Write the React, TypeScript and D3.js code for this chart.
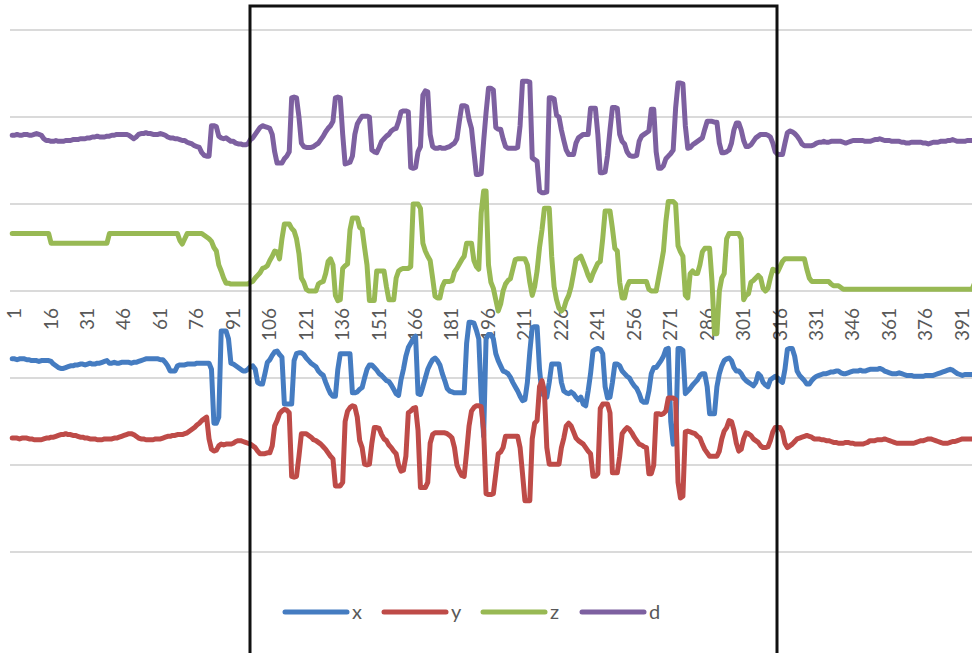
import React from "react";
import * as d3 from "d3";

// ---------- data ----------
const categories: number[] = d3.range(1, 401);
const tickLabels: number[] = [1, 16, 31, 46, 61, 76, 91, 106, 121, 136, 151, 166, 181, 196, 211, 226, 241, 256, 271, 286, 301, 316, 331, 346, 361, 376, 391];
const gridValues: number[] = [-3, -2, -1, 0, 1, 2, 3];

const seriesX: number[] = [
  -0.78,-0.78,-0.79,-0.78,-0.78,-0.78,-0.79,-0.79,-0.80,
  -0.80,-0.80,-0.81,-0.80,-0.80,-0.80,-0.80,-0.81,
  -0.84,-0.86,-0.88,-0.89,-0.89,-0.88,
  -0.87,-0.86,-0.86,-0.85,-0.85,-0.84,-0.84,-0.85,-0.84,-0.83,-0.84,-0.84,-0.83,-0.83,-0.82,
  -0.81,-0.80,
  -0.83,-0.83,-0.82,-0.83,-0.83,-0.82,-0.82,-0.82,-0.82,-0.83,-0.82,-0.82,-0.81,
  -0.80,-0.79,-0.78,-0.78,-0.78,
  -0.78,-0.78,-0.78,-0.79,-0.79,
  -0.82,-0.86,
  -0.92,-0.92,-0.92,
  -0.86,-0.85,-0.85,-0.85,-0.84,-0.84,-0.84,-0.84,-0.83,-0.83,-0.83,
  -0.83,-0.83,-0.83,
  -0.90,
  -1.52,-1.52,-1.45,
  -0.46,-0.46,-0.46,-0.55,-0.83,
  -0.84,-0.86,-0.88,-0.90,-0.92,-0.92,-0.90,
  -0.87,-0.86,-0.90,
  -1.05,-1.07,-1.07,-0.95,
  -0.82,-0.79,-0.74,-0.70,-0.69,-0.73,-0.76,
  -1.30,-1.30,-1.30,-1.30,
  -0.80,-0.72,-0.71,-0.71,-0.73,-0.77,-0.80,
  -0.83,-0.85,-0.87,-0.92,-0.95,-0.97,-1.05,-1.12,
  -1.18,-1.21,-1.21,-0.90,
  -0.72,-0.72,-0.72,-0.72,-0.72,
  -1.17,-1.17,-1.16,-1.13,-1.11,-1.00,
  -0.90,-0.85,-0.85,-0.88,-0.91,-0.95,-0.97,-1.00,
  -1.03,-1.04,-1.08,-1.13,-1.18,-1.20,
  -1.02,-0.90,-0.75,-0.65,-0.60,-0.55,-0.52,
  -1.18,-1.19,-1.10,-1.00,-0.90,-0.84,
  -0.79,-0.77,-0.80,-0.85,-0.95,-1.03,-1.12,-1.15,-1.16,
  -1.17,-1.17,-1.17,-1.17,-1.17,
  -0.60,-0.36,-0.36,-0.37,-0.45,-0.55,
  -1.20,-1.67,-0.55,
  -0.50,-0.50,-0.55,-0.72,-0.80,-0.86,-0.92,
  -0.93,-0.95,-0.99,-1.05,-1.10,-1.15,-1.21,-1.26,-1.25,
  -1.05,-0.70,-0.42,-0.41,-0.41,
  -0.90,-1.18,-1.20,-1.22,-1.05,
  -0.84,-0.84,-0.84,-0.84,
  -1.05,-1.15,-1.17,-1.18,-1.16,-1.18,
  -1.22,-1.25,-1.22,-1.30,-1.32,-1.15,-0.95,
  -0.69,-0.67,-0.66,-0.67,-0.72,
  -1.10,-1.23,-1.22,-1.05,-0.84,-0.84,-0.86,
  -0.92,-0.95,-0.98,-1.00,-1.05,-1.09,-1.12,-1.18,
  -1.26,-1.28,-1.28,-1.15,-0.95,
  -0.88,-0.88,-0.84,-0.80,-0.75,-0.67,-0.66,
  -1.50,-1.76,-1.75,-0.66,-0.66,-0.68,
  -1.18,-1.15,-1.12,-1.08,-1.05,-1.02,-0.97,-0.95,-0.95,
  -1.10,-1.41,-1.41,-1.41,-1.10,-0.95,
  -0.86,-0.80,-0.78,-0.77,-0.80,-0.88,
  -0.92,-0.92,-0.95,-1.00,-1.03,-1.05,-1.07,-1.09,
  -1.05,-0.95,-0.98,-1.05,-1.08,-1.10,
  -1.02,-1.00,-0.98,-1.00,-1.03,-1.05,
  -0.90,-0.67,-0.66,-0.66,-0.75,
  -0.92,-0.97,-1.00,-1.03,-1.07,-1.07,-1.03,
  -1.00,-0.98,-0.97,-0.96,-0.95,-0.95,-0.94,-0.93,-0.93,-0.92,
  -0.92,-0.94,-0.95,-0.95,-0.94,-0.93,-0.92,-0.92,-0.92,-0.91,
  -0.92,-0.92,-0.91,-0.90,-0.90,-0.90,-0.90,-0.89,-0.90,-0.92,
  -0.93,-0.94,-0.95,-0.95,-0.95,-0.94,-0.95,-0.96,-0.97,-0.97,
  -0.97,-0.98,-0.98,-0.98,-0.98,-0.98,-0.97,-0.97,-0.97,-0.97,
  -0.96,-0.95,-0.94,-0.93,-0.92,-0.91,-0.90,-0.91,-0.93,-0.95,
  -0.96,-0.97,-0.96,-0.96,-0.96,-0.96,-0.96,-0.96,-0.96,-0.96,
];

const seriesY: number[] = [
  -1.69,-1.69,-1.69,-1.70,-1.69,-1.69,
  -1.69,-1.70,-1.70,-1.71,-1.71,-1.71,
  -1.71,-1.70,-1.69,-1.69,
  -1.68,-1.68,-1.67,-1.66,-1.65,-1.65,-1.64,-1.65,
  -1.65,-1.66,-1.66,-1.67,-1.68,-1.68,-1.69,-1.69,
  -1.70,-1.70,-1.70,-1.71,-1.71,-1.71,-1.70,-1.70,-1.70,-1.70,
  -1.69,-1.69,-1.68,-1.67,-1.66,-1.65,-1.64,-1.64,
  -1.65,-1.67,-1.69,
  -1.70,-1.70,-1.71,-1.71,-1.71,-1.71,-1.70,-1.70,-1.70,
  -1.69,-1.68,-1.67,-1.67,-1.66,-1.66,-1.65,-1.65,
  -1.65,-1.64,-1.63,-1.61,
  -1.59,-1.57,-1.54,-1.52,-1.49,-1.47,-1.45,
  -1.70,-1.82,-1.84,-1.83,
  -1.78,-1.76,-1.77,-1.76,-1.76,-1.76,
  -1.75,-1.73,-1.72,-1.72,-1.73,-1.74,-1.75,
  -1.76,-1.78,-1.80,-1.84,-1.87,
  -1.87,-1.87,-1.86,-1.86,-1.78,
  -1.55,-1.49,-1.41,-1.38,-1.36,-1.37,-1.40,
  -2.13,-2.14,-2.13,-1.90,
  -1.64,-1.64,-1.64,-1.66,-1.68,-1.71,-1.72,
  -1.74,-1.76,-1.79,-1.82,-1.86,-1.90,-1.93,
  -2.24,-2.24,-2.24,-2.20,
  -1.50,-1.38,-1.34,-1.32,-1.33,-1.45,
  -1.72,-1.80,-1.99,-2.00,-1.99,-1.75,
  -1.57,-1.57,-1.58,-1.65,-1.70,-1.72,-1.77,
  -1.80,-1.84,-1.87,-2.00,-2.07,-2.06,-1.90,
  -1.40,-1.38,-1.35,-1.34,-1.60,
  -2.26,-2.26,-2.26,-2.20,-1.75,
  -1.65,-1.63,-1.63,-1.63,-1.63,-1.63,-1.64,-1.66,-1.69,
  -1.80,-2.00,-2.07,-2.12,-2.13,-1.85,-1.55,
  -1.38,-1.34,-1.32,-1.32,-1.33,-1.60,
  -2.33,-2.34,-2.34,-2.33,-2.10,-1.87,-1.85,-1.80,
  -1.67,-1.67,-1.67,-1.67,-1.67,-1.67,-1.80,-2.10,
  -2.41,-2.41,-2.41,-1.70,-1.52,-1.49,
  -1.10,-1.03,-1.15,-1.80,
  -1.99,-1.99,-1.99,-1.99,-1.99,-1.80,-1.69,
  -1.55,-1.52,-1.55,-1.62,-1.69,-1.72,-1.74,-1.76,-1.80,-1.84,-1.87,
  -2.13,-2.13,-2.10,-1.35,-1.30,-1.30,-1.30,-1.40,
  -2.09,-2.09,-2.09,-1.90,-1.64,-1.60,
  -1.57,-1.59,-1.63,-1.68,-1.72,-1.76,-1.77,-1.79,-1.80,
  -2.10,-2.10,-2.00,-1.41,-1.41,-1.42,-1.41,-1.38,
  -1.23,-1.23,-1.23,-1.25,-2.20,-2.38,-2.36,-1.62,
  -1.61,-1.62,-1.63,-1.64,-1.67,-1.69,-1.76,-1.82,-1.86,
  -1.90,-1.90,-1.90,-1.90,-1.84,-1.70,-1.61,
  -1.57,-1.49,-1.50,-1.60,-1.75,-1.84,-1.82,
  -1.70,-1.63,-1.64,-1.66,-1.70,-1.72,-1.74,-1.78,-1.80,
  -1.80,-1.79,-1.72,-1.62,-1.57,-1.57,-1.57,-1.62,
  -1.75,-1.80,-1.78,-1.76,-1.73,-1.70,-1.69,-1.68,-1.67,-1.66,-1.67,-1.68,
  -1.70,-1.70,-1.70,-1.71,-1.71,-1.72,-1.72,-1.73,-1.74,-1.74,
  -1.75,-1.75,-1.75,-1.74,-1.74,-1.75,-1.75,-1.76,-1.76,-1.76,
  -1.76,-1.75,-1.74,-1.72,-1.72,-1.72,-1.71,-1.71,-1.71,-1.70,
  -1.71,-1.72,-1.73,-1.74,-1.75,-1.75,-1.75,-1.75,-1.75,-1.75,
  -1.75,-1.75,-1.74,-1.73,-1.72,-1.72,-1.71,-1.70,-1.70,-1.71,
  -1.72,-1.73,-1.74,-1.75,-1.75,-1.75,-1.74,-1.73,-1.73,-1.72,
  -1.71,-1.70,-1.70,-1.70,-1.70,-1.70,-1.70,-1.70,-1.70,-1.70,
];

const seriesZ: number[] = [
  0.66,0.66,0.66,0.66,0.66,0.66,0.66,0.66,0.66,0.66,0.66,0.66,0.66,0.66,0.66,0.66,
  0.55,0.55,0.55,0.55,0.55,0.55,0.55,0.55,0.55,0.55,0.55,0.55,0.55,0.55,0.55,0.55,0.55,0.55,0.55,0.55,0.55,0.55,0.55,0.55,
  0.66,0.66,0.66,0.66,0.66,0.66,0.66,0.66,0.66,0.66,0.66,0.66,0.66,0.66,0.66,0.66,0.66,0.66,0.66,0.66,0.66,0.66,0.66,0.66,0.66,0.66,0.66,0.66,0.66,
  0.58,0.54,0.60,
  0.66,0.66,0.66,0.66,0.66,0.66,0.66,
  0.64,0.62,0.60,0.57,0.50,0.46,0.30,0.23,0.15,
  0.09,0.09,0.08,0.08,0.08,0.08,0.08,0.08,0.08,0.08,
  0.10,0.11,0.15,0.18,0.21,0.26,0.27,0.29,0.35,0.40,0.46,0.45,0.37,0.60,
  0.77,0.77,0.77,0.72,0.69,0.60,0.43,0.15,0.10,
  0.02,0.00,0.00,0.00,0.00,
  0.08,0.10,0.11,0.20,0.34,0.37,0.30,
  -0.05,-0.11,-0.10,0.26,0.29,0.31,
  0.70,0.84,0.84,0.84,0.73,0.71,0.50,0.30,
  -0.11,-0.11,-0.11,0.23,0.23,0.23,0.23,0.05,
  -0.10,-0.10,-0.10,0.15,
  0.23,0.25,0.26,0.26,0.26,0.28,
  1.00,1.00,1.00,0.95,0.55,0.46,0.40,0.35,
  0.15,-0.06,-0.08,-0.08,0.05,
  0.11,0.11,0.11,0.12,0.22,0.26,0.31,0.36,0.40,
  0.55,0.55,0.55,0.35,0.28,0.25,
  0.90,1.15,1.15,
  0.30,0.10,0.03,-0.10,-0.23,-0.15,0.00,
  0.08,0.12,0.14,0.25,
  0.36,0.37,0.37,0.37,0.37,
  0.30,0.10,-0.05,0.05,0.23,0.50,0.70,
  0.95,0.95,0.95,
  0.40,0.05,-0.10,-0.20,-0.23,-0.20,-0.11,-0.05,0.05,0.20,
  0.36,0.38,0.40,0.33,0.26,0.18,0.12,0.20,0.26,0.32,0.34,
  0.60,0.92,0.92,0.92,0.72,0.49,0.46,
  0.10,-0.08,-0.08,0.05,
  0.11,0.11,0.11,0.11,0.11,0.11,0.11,0.11,
  0.02,0.00,0.00,0.00,0.15,0.30,0.46,
  0.80,1.03,1.03,1.03,1.00,
  0.52,0.45,0.40,-0.05,-0.08,
  0.20,0.23,0.20,0.20,0.30,0.45,
  0.49,0.49,0.49,0.10,-0.49,-0.49,
  0.00,0.15,0.20,0.60,
  0.66,0.66,0.66,0.66,0.66,
  0.60,-0.10,-0.05,-0.03,0.10,0.12,0.15,
  0.18,0.15,0.03,0.00,0.03,0.15,0.25,
  0.24,0.22,0.28,0.34,
  0.37,0.37,0.37,0.37,0.37,0.37,0.37,0.37,0.37,
  0.25,0.15,
  0.11,0.11,0.11,0.11,0.11,0.11,0.11,0.11,
  0.08,0.06,0.06,0.06,0.04,0.02,0.02,
  0.02,0.02,0.02,0.02,0.02,0.02,0.02,0.02,0.02,0.02,
  0.02,0.02,0.02,0.02,0.02,0.02,0.02,0.02,0.02,0.02,
  0.02,0.02,0.02,0.02,0.02,0.02,0.02,0.02,0.02,0.02,
  0.02,0.02,0.02,0.02,0.02,0.02,0.02,0.02,0.02,0.02,
  0.02,0.02,0.02,0.02,0.02,0.02,0.02,0.02,0.02,0.02,
  0.02,0.02,
  0.09,0.09,0.09,0.09,
];

const seriesD: number[] = [
  1.79,1.79,1.80,1.79,1.79,1.80,1.80,1.79,1.79,1.80,1.81,1.80,1.79,
  1.75,1.73,
  1.73,1.72,1.72,1.73,1.72,1.72,1.72,1.73,1.73,1.73,1.74,1.74,1.74,1.75,1.75,1.75,1.76,1.76,
  1.77,1.77,1.78,1.77,1.77,1.77,1.78,1.78,1.79,1.79,1.80,1.80,1.80,
  1.80,1.80,1.79,1.77,1.75,1.77,
  1.80,1.81,1.81,1.82,1.81,1.81,1.80,1.80,1.80,1.81,1.80,1.79,
  1.77,1.76,1.76,1.75,1.75,1.74,1.73,1.73,
  1.71,1.70,1.69,1.67,1.66,1.65,
  1.59,1.56,1.55,1.55,
  1.90,1.90,1.89,
  1.78,1.76,1.75,
  1.76,1.74,1.72,1.72,
  1.70,1.69,1.69,1.68,1.68,1.69,
  1.74,1.76,
  1.80,1.84,1.88,
  1.90,1.89,1.88,1.87,
  1.80,
  1.60,
  1.47,1.47,1.47,
  1.52,1.55,
  1.60,
  2.22,2.23,2.22,
  2.00,
  1.70,1.66,1.65,1.65,1.65,
  1.66,1.68,1.70,
  1.74,1.78,1.83,1.87,1.90,1.95,
  2.22,2.23,2.22,
  1.80,
  1.46,1.47,1.48,
  1.55,
  1.80,
  1.92,1.97,2.01,2.01,2.01,2.00,
  1.62,
  1.60,1.59,
  1.65,
  1.72,
  1.75,1.78,1.80,
  1.84,1.86,1.87,
  1.95,
  2.06,2.07,2.07,2.06,
  1.42,1.41,1.42,
  1.60,1.66,
  2.25,2.30,2.29,
  1.80,
  1.66,1.64,1.64,1.65,1.64,1.64,1.65,1.66,
  1.68,1.70,1.75,
  1.95,
  2.13,2.13,2.12,
  1.97,
  1.87,
  1.60,
  1.34,1.34,1.35,
  1.72,
  2.05,
  2.33,2.33,2.31,
  1.88,
  1.86,1.86,1.75,
  1.66,1.64,1.64,1.64,1.64,1.65,
  1.90,
  2.41,2.41,2.41,2.40,
  1.53,
  1.51,1.49,
  1.15,1.13,1.13,1.14,
  2.22,2.22,2.21,
  2.02,2.00,
  1.85,
  1.73,
  1.62,1.57,1.57,1.57,
  1.70,
  1.76,1.78,1.80,1.80,1.80,
  2.10,2.10,2.10,
  1.80,
  1.36,1.36,1.37,
  1.56,
  1.85,
  2.11,2.11,2.10,
  1.80,
  1.72,1.69,
  1.60,1.56,1.55,1.55,1.56,
  1.72,
  1.78,1.80,1.82,1.84,
  2.09,2.09,
  1.60,
  1.41,1.41,1.44,
  1.52,1.55,1.58,
  1.62,
  2.10,
  2.39,2.39,2.38,
  1.90,
  1.64,1.65,1.68,
  1.70,1.72,1.74,1.76,
  1.86,
  1.95,1.95,1.95,1.94,1.94,
  1.70,
  1.59,1.59,1.60,1.62,
  1.70,1.85,1.93,
  1.93,1.85,
  1.73,1.66,1.66,
  1.68,1.72,
  1.76,1.78,1.80,1.80,1.80,1.79,
  1.77,
  1.70,1.60,1.57,1.57,1.57,
  1.70,
  1.82,1.84,1.83,1.81,
  1.78,1.74,1.69,1.67,
  1.67,1.67,1.67,1.68,
  1.70,1.71,1.71,1.72,1.71,1.71,1.72,1.72,1.72,
  1.72,1.72,1.71,1.70,1.71,1.72,1.73,1.73,1.73,1.73,
  1.73,1.72,1.72,1.72,1.73,1.74,1.74,1.75,1.74,1.73,
  1.73,1.73,1.72,1.72,1.72,1.72,1.71,1.71,1.70,1.70,
  1.71,1.71,1.71,1.71,1.71,1.70,1.70,1.69,1.70,1.71,
  1.71,1.71,1.72,1.72,1.72,1.73,1.73,1.74,1.73,1.72,
  1.72,1.72,1.72,1.73,1.73,1.73,1.73,1.73,1.73,1.73,
];

const seriesNames: string[] = ["x", "y", "z", "d"];
const seriesColors: string[] = ["#457CC1", "#BE4B48", "#98B954", "#7D60A0"];
const seriesValues: number[][] = [seriesX, seriesY, seriesZ, seriesD];

// ---------- layout ----------
const W = 972;
const H = 653;
const STEP = 2.43;
const PLOT_LEFT = 11;
const PLOT_TOP = 30;
const PLOT_BOTTOM = 552;
const FONT = "Lato, 'Liberation Sans', sans-serif";

export default function App() {
  const x = d3
    .scaleBand<number>()
    .domain(categories)
    .range([PLOT_LEFT, PLOT_LEFT + categories.length * STEP])
    .padding(0);
  const cx = (c: number) => (x(c) as number) + x.bandwidth() / 2;
  const y = d3.scaleLinear().domain([-3, 3]).range([PLOT_BOTTOM, PLOT_TOP]);

  const line = d3
    .line<number>()
    .x((_, i) => cx(categories[i]))
    .y((v) => y(v));

  const legendX0 = 285;
  const legendGap = 99;
  const legendY = 612;

  return (
    <svg
      width={W}
      height={H}
      style={{ position: "absolute", left: 0, top: 0, display: "block", background: "#fff" }}
    >
      <rect x={0} y={0} width={W} height={H} fill="#ffffff" />
      {/* gridlines */}
      {gridValues.map((g) => (
        <line
          key={"g" + g}
          x1={PLOT_LEFT - 1}
          x2={PLOT_LEFT + categories.length * STEP}
          y1={y(g)}
          y2={y(g)}
          stroke="#dadada"
          strokeWidth={1.8}
        />
      ))}
      {/* category tick labels */}
      {tickLabels.map((t) => (
        <text
          key={"t" + t}
          transform={`translate(${cx(t) + 2},${y(0) + 17}) rotate(-90)`}
          textAnchor="end"
          dy="0.36em"
          fontFamily={FONT}
          fontSize={19}
          fill="#595959"
        >
          {t}
        </text>
      ))}
      {/* series */}
      {seriesValues.map((vals, k) => (
        <path
          key={"s" + k}
          d={line(vals) || ""}
          fill="none"
          stroke={seriesColors[k]}
          strokeWidth={5}
          strokeLinejoin="round"
          strokeLinecap="round"
        />
      ))}
      {/* legend */}
      {seriesNames.map((n, k) => (
        <g key={"l" + n} transform={`translate(${legendX0 + k * legendGap},${legendY})`}>
          <line x1={0} x2={62} y1={0} y2={0} stroke={seriesColors[k]} strokeWidth={5} strokeLinecap="round" />
          <text x={67} y={0} dy="0.33em" fontFamily={FONT} fontSize={20} fill="#595959">
            {n}
          </text>
        </g>
      ))}
      {/* black highlight frame */}
      <rect x={250} y={6} width={527} height={H + 10} fill="none" stroke="#111" strokeWidth={3} />
    </svg>
  );
}
